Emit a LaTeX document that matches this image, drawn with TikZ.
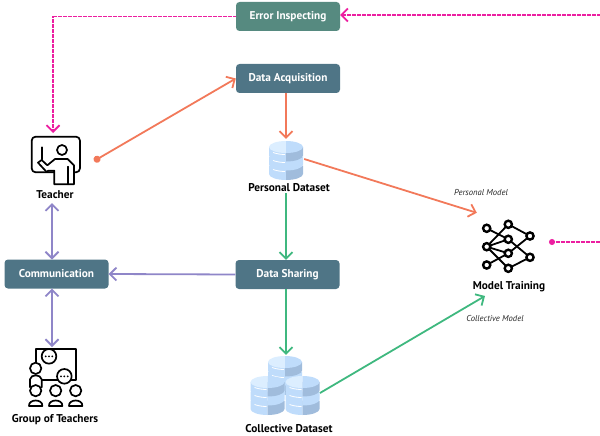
\documentclass[tikz,border=0pt]{standalone}
\usepackage{fontspec}
\setmainfont{PT Sans}
\usetikzlibrary{arrows.meta}
\definecolor{boxblue}{HTML}{4F7586}
\definecolor{boxgreen}{HTML}{568A80}
\definecolor{orangeline}{HTML}{F2795A}
\definecolor{greenline}{HTML}{3FB87F}
\definecolor{purpleline}{HTML}{8F86C8}
\definecolor{pinkline}{HTML}{EC1EA0}
\definecolor{dblight}{HTML}{BFDCFB}
\definecolor{dbtop}{HTML}{DCEEFF}
\definecolor{dbdark}{HTML}{A0BCDC}
\newcommand{\dbslab}[4]{
	\fill[#3] (-17,#1) -- (-17,#2) .. controls (-17,#2+3.3) and (-9.4,#2+6) .. (0,#2+6) -- (0,#1) -- cycle;
	\fill[#4] (17,#1) -- (17,#2) .. controls (17,#2+3.3) and (9.4,#2+6) .. (0,#2+6) -- (0,#1) -- cycle;}
\tikzset{
	barb/.tip={Straight Barb[length=6.5pt,width=13pt,line width=1.8pt]},
	stepbox/.style={fill=#1,rounded corners=3.5pt,minimum width=104pt,minimum height=29pt,inner sep=0pt,text=white,text height=8pt,text depth=2pt,font=\fontsize{11.3}{13}\selectfont\bfseries},
	iconlabel/.style={font=\fontsize{11.3}{13}\selectfont\bfseries,text=black,inner sep=0pt,text height=8pt,text depth=2pt},
	modellabel/.style={font=\fontsize{8.6}{10}\selectfont\itshape,text=black!85,inner sep=0pt},
	iconbox/.style={minimum width=#1,inner sep=0pt},
	link/.style={line width=1.8pt,-barb},
	both/.style={line width=1.8pt,barb-barb},
	inspect/.style={color=pinkline,line width=1.3pt,dash pattern=on 0.8pt off 0.45pt},
	icon/.style={line width=1.7pt,line join=round,line cap=round},
	dbcyl/.pic={
		\dbslab{5}{13.5}{dblight}{dbdark}
		\dbslab{-4}{4}{dblight}{dblight}
		\dbslab{-13.5}{-5}{dblight}{dbdark}
		\fill[dbtop] (-17,-13.5) .. controls (-17,-16.8) and (-9.4,-19.5) .. (0,-19.5) -- (0,-7.5) .. controls (-9.4,-7.5) and (-17,-10.2) .. (-17,-13.5);
		\fill[dblight] (17,-13.5) .. controls (17,-16.8) and (9.4,-19.5) .. (0,-19.5) -- (0,-7.5) .. controls (9.4,-7.5) and (17,-10.2) .. (17,-13.5);
		\draw[white,line width=0.8pt] (-13,0) .. controls (-9,1.5) and (-4,2) .. (-1,2);
		\draw[white,line width=0.8pt] (-13,9) .. controls (-9,10.5) and (-4,11) .. (-1,11);
		\draw[white,line width=0.8pt] (-13,-8) .. controls (-9,-6.5) and (-4,-6) .. (-1,-6);}
}
\begin{document}
\begin{tikzpicture}[x=1pt,y=-1pt]
\useasboundingbox (0,0) rectangle (600,436);
\node[stepbox=boxgreen] (error) at (288,16.5) {Error Inspecting};
\node[stepbox=boxblue] (acquisition) at (288,78.5) {Data Acquisition};
\node[stepbox=boxblue] (sharing) at (287.5,274.5) {Data Sharing};
\node[stepbox=boxblue] (communication) at (56.5,274) {Communication};
\node[iconlabel] (teacherlabel) at (55,195) {Teacher};
\node[iconlabel] (personallabel) at (289,188) {Personal Dataset};
\node[iconlabel] (modellabeltext) at (509,286) {Model Training};
\node[iconlabel] (collectivelabel) at (289,429) {Collective Dataset};
\node[iconlabel] (grouplabel) at (55,419) {Group of Teachers};
\node[modellabel] (personalmodel) at (481,193) {Personal Model};
\node[modellabel] (collectivemodel) at (495,318) {Collective Model};
% teacher icon
\begin{scope}[scale=1/3]
\draw[icon,rounded corners=4pt] (95,410) rectangle (240,517);
\draw[icon] (125,442) -- (125,478);
\draw[icon] (186,450) circle[radius=15];
\draw[icon,fill=white] (163,553) -- (163,512) -- (145,512) -- (140,516) -- (114,488) -- (125,480) -- (142,496) -- (165,477) -- (203,477) -- (222,496) -- (222,553) -- cycle;
\draw[icon] (205,500) -- (205,553);
\end{scope}
% group icon
\begin{scope}[yshift=-250pt,scale=1/3]
\draw[icon] (107,335) -- (107,297) -- (227,297) -- (227,390) -- (125,390);
\draw[icon,fill=white] (147,319) circle[radius=22];
\draw[icon,fill=white] (193,379) circle[radius=22];
\foreach \x in {137,147,157}{\fill (\x,319) circle[radius=3];}
\foreach \x in {183,193,203}{\fill (\x,379) circle[radius=3];}
\draw[icon,fill=white] (90,412) -- (90,388) .. controls (92,372) and (122,372) .. (125,388) -- (125,412);
\draw[icon,fill=white] (107,355) circle[radius=17];
\foreach \x in {107,167,227}{
	\draw[icon,fill=white] (\x-20,468) .. controls (\x-22,446) and (\x+22,446) .. (\x+20,468) -- cycle;
	\draw[icon,fill=white] (\x,422) circle[radius=17];}
\end{scope}
% model icon
\foreach \nm/\xx/\yy in {a/486.7/228.3,b/486.7/246.7,c/486.7/265,d/508.3/224.3,e/508.3/239.3,f/508.3/253.3,g/508.3/268.3,h/530/236,i/530/257.3}{
	\coordinate (net\nm) at (\xx,\yy);}
\foreach \from/\to in {a/e,b/d,b/e,b/f,b/g,c/f,d/h,e/i,f/h,g/i}{
	\draw[line width=1.8pt] (net\from) -- (net\to);}
\foreach \nm in {a,...,i}{
	\draw[line width=2.4pt,fill=white] (net\nm) circle[radius=3.6];}
% datasets
\pic at (286,160.5) {dbcyl};
\pic at (285,375.5) {dbcyl};
\pic at (267.5,395.5) {dbcyl};
\pic at (302.5,395.5) {dbcyl};
\node[iconbox=49pt,minimum height=49pt] (teacher) at (55.5,160.5) {};
\node[iconbox=36pt,minimum height=40pt] (personal) at (286,159) {};
\node[iconbox=70pt,minimum height=64pt] (collective) at (285,387) {};
\node[iconbox=56pt,minimum height=60pt] (group) at (55.5,377.5) {};
\node[iconbox=62pt,minimum height=59pt] (model) at (508,242.5) {};
\coordinate (errorin) at (600,15);
\coordinate (modelin) at (600,242);
\coordinate (modelout) at (549,242);
\coordinate (teachertop) at (53,133);
\coordinate (teacherout) at (94,161);
\coordinate (teacherdown) at (52,203);
\coordinate (commup) at (52,259.5);
\coordinate (commdown) at (52,288.5);
\coordinate (groupup) at (52,347);
\coordinate (collectiveout) at (320,393);
\coordinate (modelbelow) at (485,296);
% connectors
\draw[link,inspect] (errorin) -- (error.east |- errorin);
\draw[link,inspect] (error.west) -| (teachertop);
\draw[inspect,{Circle[length=6pt]}-] (modelout) -- (modelin);
\draw[line width=1.8pt,orangeline,{Circle[length=7pt]}-barb] (teacherout) -- (acquisition.west);
\draw[link,orangeline] ([xshift=-2pt]acquisition.south) -- ([xshift=-2pt]acquisition.south |- personal.north);
\draw[link,orangeline] (personal.east) -- (model.north west);
\draw[link,greenline] ([xshift=-3pt]personallabel.south) -- ([xshift=-3pt]personallabel.south |- sharing.north);
\draw[link,greenline] ([xshift=-1.5pt]sharing.south) -- ([xshift=-1.5pt]sharing.south |- collective.north);
\draw[link,greenline] (collectiveout) -- (modelbelow);
\draw[link,purpleline] (sharing.west) -- (communication.east);
\draw[both,purpleline] (teacherdown) -- (commup);
\draw[both,purpleline] (commdown) -- (groupup);
\end{tikzpicture}
\end{document}
